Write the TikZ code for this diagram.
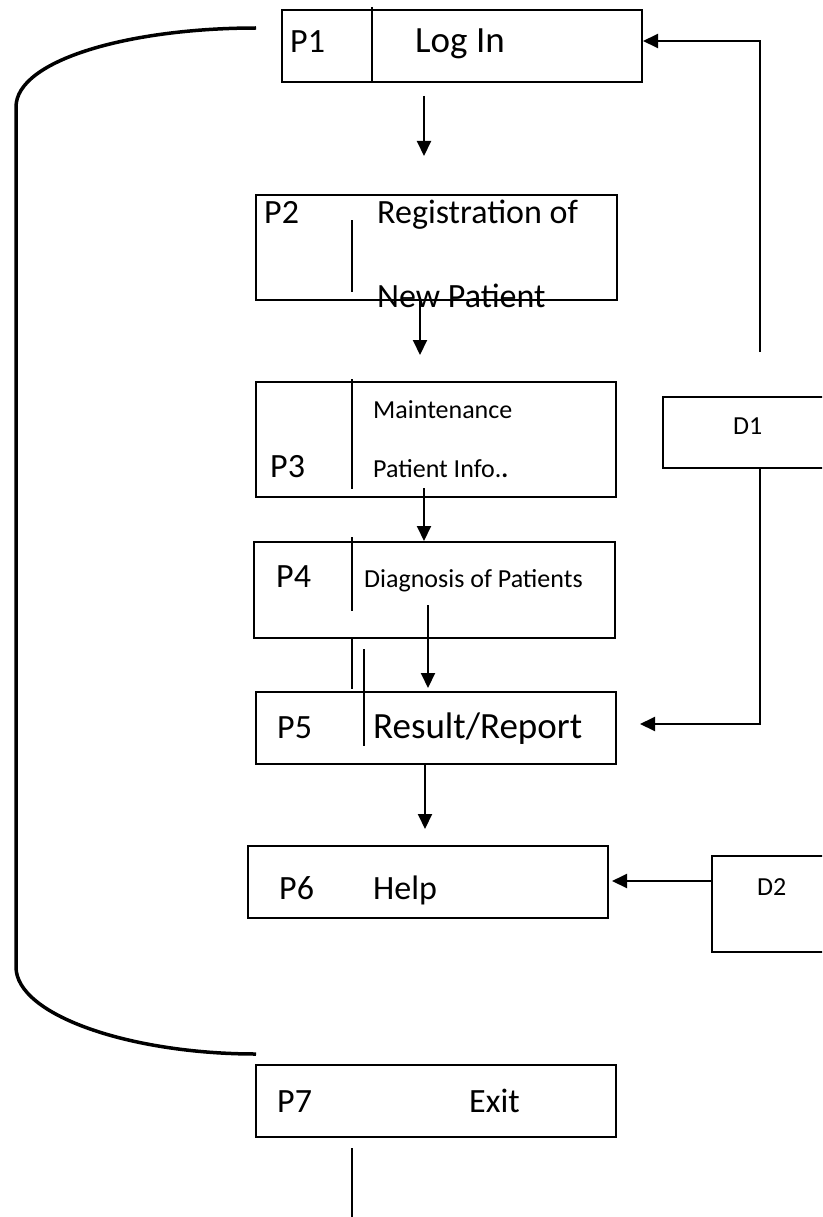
\documentclass[tikz,border=0pt]{standalone}
\usepackage{fontspec}
\setmainfont{Carlito}
\usetikzlibrary{arrows.meta}
\tikzstyle{arrow} = [line width=2pt,-{Triangle[length=15pt,width=14pt]}]

\begin{document}
\begin{tikzpicture}[x=1pt, y=-1pt,
            procbox/.style={draw=black, line width=2pt, inner sep=0},
            divider/.style={line width=1.8pt},
            big/.style={inner sep=0, anchor=base west, font=\fontsize{34}{40}\selectfont},
            bigger/.style={inner sep=0, anchor=base west, font=\fontsize{37}{44}\selectfont},
            small/.style={inner sep=0, anchor=base west, font=\fontsize{26}{30}\selectfont},
            loopline/.style={line width=3.5pt}]
            \useasboundingbox (0,0) rectangle (822,1217);
            \clip (0,0) rectangle (822,1217);

            % Process boxes
            \node[procbox, minimum width=360pt, minimum height=72pt] (p1) at (462,46) {};
            \node[procbox, minimum width=361pt, minimum height=105pt] (p2) at (436.5,247.5) {};
            \node[procbox, minimum width=360pt, minimum height=115pt] (p3) at (436,439.5) {};
            \node[procbox, minimum width=361pt, minimum height=96pt] (p4) at (434.5,590) {};
            \node[procbox, minimum width=360pt, minimum height=72pt] (p5) at (436,728) {};
            \node[procbox, minimum width=360pt, minimum height=72pt] (p6) at (428,882) {};
            \node[procbox, minimum width=360pt, minimum height=72pt] (p7) at (436,1101) {};

            % Data stores
            \node[procbox, minimum width=167pt, minimum height=71pt] (d1) at (746.5,432.5) {};
            \node[procbox, minimum width=118pt, minimum height=96pt] (d2) at (771,904) {};

            % Labels
            \node[big] (p1id) at (290,53) {P1};
            \node[bigger] (p1txt) at (415,53) {Log In};
            \node[big] (p2id) at (264,223) {P2};
            \node[big] (p2txt) at (377,223) {Registration of};
            \node[big] (p2txtb) at (377,307) {New Patient};
            \node[big] (p3id) at (270,477) {P3};
            \node[small] (p3txt) at (373,418) {Maintenance};
            \node[small] (p3txtb) at (373,477) {Patient Info.\textbf{.}};
            \node[big] (p4id) at (276,587) {P4};
            \node[small] (p4txt) at (364,587) {Diagnosis of Patients};
            \node[big] (p5id) at (277,738) {P5};
            \node[bigger] (p5txt) at (373,738) {Result/Report};
            \node[big] (p6id) at (279,899) {P6};
            \node[big] (p6txt) at (373,899) {Help};
            \node[big] (p7id) at (277,1112) {P7};
            \node[big] (p7txt) at (469,1112) {Exit};
            \node[small] (d1id) at (733,434) {D1};
            \node[small] (d2id) at (757,895) {D2};

            % Dividers
            \draw[divider] (372,7) -- (372,82);
            \draw[divider] (352,220) -- (352,292);
            \draw[divider] (352,379) -- (352,489);
            \draw[divider] (352,537) -- (352,611);
            \draw[divider] (352,638) -- (352,689);
            \draw[divider] (364,649) -- (364,746);

            % Free ends
            \coordinate (a1s) at (424,96);
            \coordinate (a1e) at (424,156);
            \coordinate (a2s) at (420,300);
            \coordinate (a2e) at (420,355);
            \coordinate (a3s) at (424,488);
            \coordinate (a4s) at (428,605);
            \coordinate (a4e) at (428,688);
            \coordinate (a5e) at (425,829);
            \coordinate (d1up) at (760,352);
            \coordinate (d1bend) at (760,724);
            \coordinate (p5in) at (640,724);
            \coordinate (p6in) at (612,881);
            \coordinate (looptop) at (256,28);
            \coordinate (loopbot) at (256,1054);
            \coordinate (exits) at (352,1148);
            \coordinate (exite) at (352,1217);

            % Arrows
            \draw[arrow] (a1s) -- (a1e);
            \draw[arrow] (a2s) -- (a2e);
            \draw[arrow] (a3s) -- (a3s |- p4.north);
            \draw[arrow] (a4s) -- (a4e);
            \draw[arrow] (p5.south -| a5e) -- (a5e);
            \draw[arrow] (d1up) |- ([yshift=5pt]p1.east);
            \draw[arrow] (d1.south -| d1bend) -- (d1bend) -- (p5in);
            \draw[arrow] (d2.west |- p6in) -- (p6in);

            % Loop back to log in
            \draw[loopline] (looptop) .. controls (130,28) and (16,60) .. (16,107)
                -- (16,967) .. controls (16,1015) and (130,1054) .. (loopbot);
            \draw[divider] (exits) -- (exite);
        \end{tikzpicture}
\end{document}
